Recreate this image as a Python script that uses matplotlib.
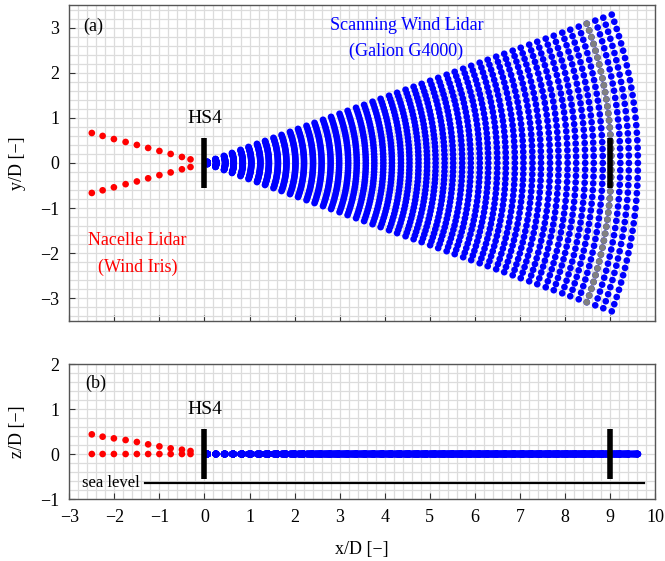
import numpy as np
import matplotlib
matplotlib.use("Agg")
import matplotlib.pyplot as plt

plt.rcParams['font.family'] = ['Liberation Serif', 'DejaVu Serif']
plt.rcParams['axes.unicode_minus'] = True

# ---- data ----
# scanning lidar (Galion G4000) range gates [D] and azimuth angles [deg]
range_gates = [0.07, 0.26, 0.46, 0.65, 0.85, 1.04, 1.24, 1.43, 1.63, 1.82,
               2.02, 2.21, 2.41, 2.60, 2.80, 2.99, 3.19, 3.38, 3.58, 3.77,
               3.97, 4.16, 4.36, 4.55, 4.75, 4.94, 5.13, 5.33, 5.52, 5.72,
               5.91, 6.11, 6.30, 6.50, 6.69, 6.89, 7.08, 7.28, 7.47, 7.67,
               7.86, 8.06, 8.25, 8.45, 8.64, 8.84, 9.03, 9.23, 9.42, 9.62]
azimuths_deg = list(range(-20, 21))
highlight_gate = 9.03   # gray arc

# nacelle lidar (Wind Iris) points
nac_x = [-2.50, -2.26, -2.01, -1.75, -1.50, -1.25, -1.00, -0.75, -0.50, -0.31]
nac_y_top = [0.665, 0.60, 0.53, 0.466, 0.40, 0.333, 0.266, 0.20, 0.133, 0.08]
nac_y_bot = [-0.665, -0.606, -0.54, -0.47, -0.41, -0.34, -0.27, -0.21, -0.14, -0.09]
nac_z_up = [0.437, 0.385, 0.348, 0.311, 0.267, 0.215, 0.170, 0.126, 0.096, 0.067]
nac_z_low = [0.0] * 10

hs4_x = [0.0, 9.0]
bar_half = 0.55
sea_level_z = -0.655
sea_level_x = [-1.32, 9.75]

xticks = list(range(-3, 11))
yticks_a = [-3, -2, -1, 0, 1, 2, 3]
yticks_b = [-1, 0, 1, 2]

# ---- derived scan points ----
R, A = np.meshgrid(np.array(range_gates), np.deg2rad(np.array(azimuths_deg)))
sx = (R * np.cos(A)).ravel()
sy = (R * np.sin(A)).ravel()
az = np.deg2rad(np.array(azimuths_deg))
gx = highlight_gate * np.cos(az)
gy = highlight_gate * np.sin(az)

fig = plt.figure(figsize=(6.65, 5.61), dpi=100)
ax1 = fig.add_axes([0.1042, 0.4282, 0.8808, 0.5626])
ax2 = fig.add_axes([0.1042, 0.1105, 0.8808, 0.2406])

ms = 23
for ax in (ax1, ax2):
    ax.set_xlim(-3, 10)
    ax.set_xticks(xticks)
    ax.set_xticks(np.arange(-3, 10.001, 0.2), minor=True)
    ax.set_axisbelow(True)
    ax.grid(which='both', color='#dcdcdc', lw=0.9)
    ax.tick_params(which='major', direction='in', length=4, width=0.8,
                   labelsize=13, color='#333333', pad=7)
    ax.tick_params(which='minor', length=0)
    for s in ax.spines.values():
        s.set_color('#555555')
        s.set_linewidth(1.0)

# top panel
ax1.set_ylim(-3.5, 3.5)
ax1.set_yticks(yticks_a)
ax1.set_yticks(np.arange(-3.4, 3.5, 0.2), minor=True)
ax1.tick_params(labelbottom=False)
ax1.scatter(sx, sy, s=ms, color='#0000ff', edgecolors='none', zorder=3)
ax1.scatter(gx, gy, s=ms, color='#808080', edgecolors='none', zorder=4)
ax1.scatter(nac_x, nac_y_top, s=ms, color='#ff0000', edgecolors='none', zorder=3)
ax1.scatter(nac_x, nac_y_bot, s=ms, color='#ff0000', edgecolors='none', zorder=3)
for hx in hs4_x:
    ax1.plot([hx, hx], [-bar_half, bar_half], color='k', lw=4,
             solid_capstyle='butt', zorder=5)
ax1.set_ylabel('y/D [−]', fontsize=13, labelpad=10)
ax1.text(-2.7, 3.02, '(a)', fontsize=13, va='center', ha='left')
ax1.text(0.0, 0.99, 'HS4', fontsize=14, va='center', ha='center')
ax1.text(4.48, 3.04, 'Scanning Wind Lidar', fontsize=13, color='#0000ff',
         va='center', ha='center')
ax1.text(4.48, 2.47, '(Galion G4000)', fontsize=13, color='#0000ff',
         va='center', ha='center')
ax1.text(-1.49, -1.72, 'Nacelle Lidar', fontsize=13, color='#ff0000',
         va='center', ha='center')
ax1.text(-1.49, -2.31, '(Wind Iris)', fontsize=13, color='#ff0000',
         va='center', ha='center')

# bottom panel
ax2.set_ylim(-1, 2)
ax2.set_yticks(yticks_b)
ax2.set_yticks(np.arange(-1, 2.001, 0.2), minor=True)
ax2.scatter(sx, np.zeros_like(sx), s=ms, color='#0000ff', edgecolors='none', zorder=3)
ax2.scatter(nac_x, nac_z_up, s=ms, color='#ff0000', edgecolors='none', zorder=3)
ax2.scatter(nac_x, nac_z_low, s=ms, color='#ff0000', edgecolors='none', zorder=3)
for hx in hs4_x:
    ax2.plot([hx, hx], [-bar_half, bar_half], color='k', lw=4,
             solid_capstyle='butt', zorder=5)
ax2.plot(sea_level_x, [sea_level_z, sea_level_z], color='k', lw=1.6, zorder=4)
ax2.text(-2.72, sea_level_z, 'sea level', fontsize=12, va='center', ha='left')
ax2.text(-2.65, 1.57, '(b)', fontsize=13, va='center', ha='left')
ax2.text(0.0, 0.98, 'HS4', fontsize=14, va='center', ha='center')
ax2.set_ylabel('z/D [−]', fontsize=13, labelpad=10)
ax2.set_xlabel('x/D [−]', fontsize=13, labelpad=11)

fig.savefig('out.png', dpi=100)
